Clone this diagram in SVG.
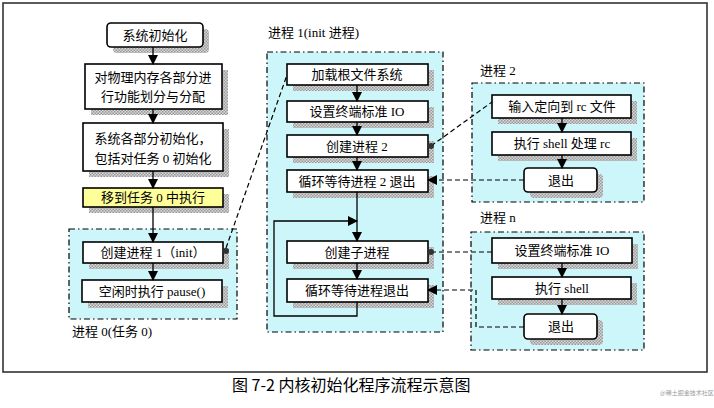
<svg xmlns="http://www.w3.org/2000/svg" width="714" height="408" viewBox="0 0 714 408">
<style>
.box{fill:#fff;stroke:#000;stroke-width:1.6}
.sh{fill:url(#shade)}
.cont{fill:#ccf6fa;stroke:#000;stroke-width:1.2;stroke-dasharray:6,3,1.5,3}
.t{font-family:"Liberation Serif","Noto Sans CJK SC",serif;font-size:13px;fill:#000;text-anchor:middle}
.lbl{font-family:"Liberation Serif","Noto Sans CJK SC",serif;font-size:13px;fill:#000}
.ar{fill:none;stroke:#000;stroke-width:1.3;marker-end:url(#ah)}
.dl{fill:none;stroke:#000;stroke-width:1.2;stroke-dasharray:5,3}
.da{fill:none;stroke:#000;stroke-width:1.2;stroke-dasharray:5,3;marker-end:url(#ah)}
.dot{fill:#333}
</style>
<defs>
<pattern id="shade" width="3" height="3" patternUnits="userSpaceOnUse">
<rect width="3" height="3" fill="#d8d8d8"/>
<rect width="1.5" height="1.5" fill="#999"/>
<rect x="1.5" y="1.5" width="1.5" height="1.5" fill="#999"/>
</pattern>
<marker id="ah" markerWidth="10" markerHeight="10" refX="9" refY="5" orient="auto" markerUnits="userSpaceOnUse">
<path d="M0,0 L10,5 L0,10 Z" fill="#000"/>
</marker>
</defs>
<rect x="0" y="0" width="714" height="408" fill="#fff"/>
<rect x="3" y="3" width="704" height="369" fill="#fff" stroke="#333" stroke-width="1.6"/>

<!-- containers -->
<g id="proc0">
<rect class="cont" x="69" y="229" width="168" height="90"/>
<text class="lbl" x="72" y="336">进程 0(任务 0)</text>
</g>
<g id="proc1">
<rect class="cont" x="267" y="52" width="176" height="280"/>
<text class="lbl" x="268" y="37">进程 1(init 进程)</text>
</g>
<g id="proc2">
<rect class="cont" x="472" y="83" width="172" height="119"/>
<text class="lbl" x="480" y="75">进程 2</text>
</g>
<g id="procn">
<rect class="cont" x="471" y="232" width="173" height="118"/>
<text class="lbl" x="480" y="222">进程 n</text>
</g>

<!-- left column -->
<g id="n_init">
<rect class="sh" x="113" y="29" width="96" height="24" rx="4"/>
<rect class="box" x="107" y="23" width="96" height="24" rx="4"/>
<text class="t" x="155" y="40">系统初始化</text>
</g>
<g id="n_mem">
<rect class="sh" x="91" y="70" width="137" height="45"/>
<rect class="box" x="85" y="64" width="137" height="45"/>
<text class="t" x="153" y="82">对物理内存各部分进</text>
<text class="t" x="153" y="101">行功能划分与分配</text>
</g>
<g id="n_parts">
<rect class="sh" x="89" y="129" width="140" height="48"/>
<rect class="box" x="83" y="123" width="140" height="48"/>
<text class="t" x="153" y="143">系统各部分初始化，</text>
<text class="t" x="153" y="163">包括对任务 0 初始化</text>
</g>
<g id="n_move">
<rect class="sh" x="89" y="194" width="140" height="19"/>
<rect class="box" x="83" y="188" width="140" height="19" style="fill:#ffff99"/>
<text class="t" x="153" y="202">移到任务 0 中执行</text>
</g>
<g id="n_create1">
<rect class="sh" x="89" y="248" width="140" height="21"/>
<rect class="box" x="83" y="242" width="140" height="21"/>
<text class="t" x="153" y="257">创建进程 1（init）</text>
</g>
<g id="n_pause">
<rect class="sh" x="88" y="286" width="140" height="22"/>
<rect class="box" x="82" y="280" width="140" height="22"/>
<text class="t" x="152" y="296">空闲时执行 pause()</text>
</g>

<!-- middle column -->
<g id="n_mount">
<rect class="sh" x="293" y="70" width="141" height="21"/>
<rect class="box" x="287" y="64" width="141" height="21"/>
<text class="t" x="357" y="79">加载根文件系统</text>
</g>
<g id="n_io1">
<rect class="sh" x="293" y="107" width="141" height="21"/>
<rect class="box" x="287" y="101" width="141" height="21"/>
<text class="t" x="357" y="116">设置终端标准 IO</text>
</g>
<g id="n_create2">
<rect class="sh" x="293" y="141" width="141" height="22"/>
<rect class="box" x="287" y="135" width="141" height="22"/>
<text class="t" x="357" y="151">创建进程 2</text>
</g>
<g id="n_wait2">
<rect class="sh" x="293" y="176" width="141" height="22"/>
<rect class="box" x="287" y="170" width="141" height="22"/>
<text class="t" x="357" y="186">循环等待进程 2 退出</text>
</g>
<g id="n_child">
<rect class="sh" x="293" y="247" width="141" height="22"/>
<rect class="box" x="287" y="241" width="141" height="22"/>
<text class="t" x="357" y="257">创建子进程</text>
</g>
<g id="n_waitc">
<rect class="sh" x="293" y="285" width="141" height="23"/>
<rect class="box" x="287" y="279" width="141" height="23"/>
<text class="t" x="357" y="295">循环等待进程退出</text>
</g>

<!-- process 2 -->
<g id="n_rc">
<rect class="sh" x="498" y="101" width="139" height="23"/>
<rect class="box" x="492" y="95" width="139" height="23"/>
<text class="t" x="562" y="111">输入定向到 rc 文件</text>
</g>
<g id="n_shellrc">
<rect class="sh" x="498" y="138" width="139" height="23"/>
<rect class="box" x="492" y="132" width="139" height="23"/>
<text class="t" x="562" y="148">执行 shell 处理 rc</text>
</g>
<g id="n_exit2">
<rect class="sh" x="530" y="174" width="73" height="24" rx="4"/>
<rect class="box" x="524" y="168" width="73" height="24" rx="4"/>
<text class="t" x="561" y="185">退出</text>
</g>

<!-- process n -->
<g id="n_ion">
<rect class="sh" x="498" y="244" width="140" height="25"/>
<rect class="box" x="492" y="238" width="140" height="25"/>
<text class="t" x="562" y="255">设置终端标准 IO</text>
</g>
<g id="n_shell">
<rect class="sh" x="498" y="283" width="139" height="22"/>
<rect class="box" x="492" y="277" width="139" height="22"/>
<text class="t" x="562" y="293">执行 shell</text>
</g>
<g id="n_exitn">
<rect class="sh" x="530" y="320" width="73" height="25" rx="4"/>
<rect class="box" x="524" y="314" width="73" height="25" rx="4"/>
<text class="t" x="561" y="331">退出</text>
</g>

<!-- connectors -->
<g id="connectors">
<path class="ar" d="M153,47 V64"/>
<path class="ar" d="M153,109 V123"/>
<path class="ar" d="M153,171 V188"/>
<path class="ar" d="M153,207 V242"/>
<path class="ar" d="M153,263 V280"/>
<path class="ar" d="M357,85 V101"/>
<path class="ar" d="M357,122 V135"/>
<path class="ar" d="M357,157 V170"/>
<path class="ar" d="M357,192 V241"/>
<path class="ar" d="M357,263 V279"/>
<path class="ar" d="M357,302 V316 H274 V221 H357"/>
<path class="ar" d="M562,118 V132"/>
<path class="ar" d="M562,155 V168"/>
<path class="ar" d="M562,263 V277"/>
<path class="ar" d="M562,299 V314"/>
<path class="dl" d="M226,248 L287,75"/>
<circle class="dot" cx="226" cy="251" r="3"/>
<path class="dl" d="M431,146 L492,102"/>
<circle class="dot" cx="431" cy="146" r="3"/>
<path class="da" d="M524,180 H428"/>
<path class="dl" d="M431,252 H492"/>
<circle class="dot" cx="431" cy="252" r="3"/>
<path class="da" d="M524,327 H476 V290 H428"/>
</g>

<text x="232" y="391" style="font-family:'Noto Sans CJK SC','Liberation Sans',sans-serif;font-size:16px;fill:#000">图 7-2 内核初始化程序流程示意图</text>
<text x="660" y="395" style="font-family:'Noto Sans CJK SC','Liberation Sans',sans-serif;font-size:6px;fill:#999">@稀土掘金技术社区</text>
</svg>
